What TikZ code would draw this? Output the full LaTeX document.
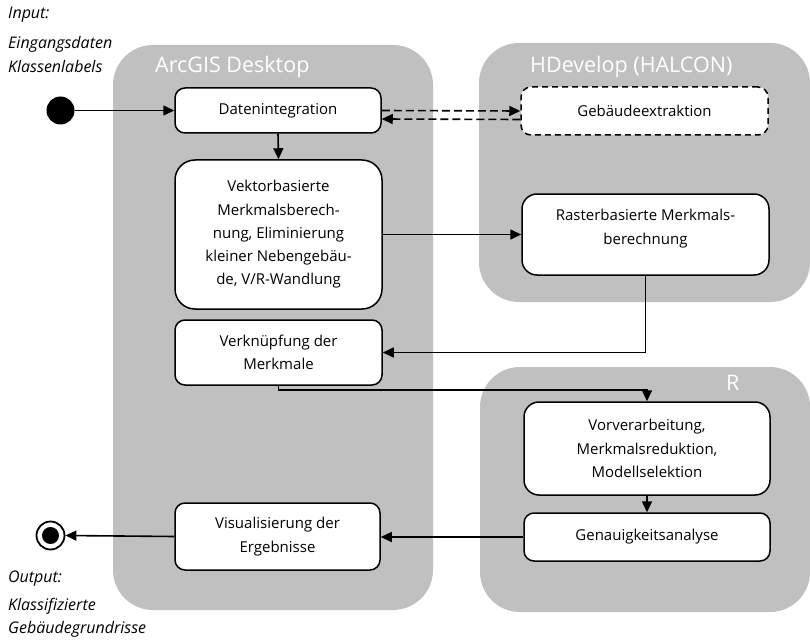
\documentclass[tikz,border=0pt]{standalone}
\usepackage{fontspec}
\setmainfont{Open Sans}
\usetikzlibrary{arrows.meta}
\definecolor{panelgray}{RGB}{192,192,192}
\tikzset{
  panel/.style={fill=panelgray, draw=none, rounded corners=40pt, inner sep=0pt},
  ptitle/.style={text=white, font=\fontsize{21.5}{24}\selectfont, inner sep=0pt, anchor=base west},
  box/.style={draw=black, fill=white, line width=1.5pt, rounded corners=10pt, align=center,
    inner sep=0pt, font=\fontsize{15}{23.3}\selectfont},
  flow/.style={line width=1.6pt, -{Triangle[length=11pt,width=10pt]}},
  itext/.style={font=\itshape\fontsize{16}{18}\selectfont, anchor=base west, inner sep=0pt},
}
\begin{document}
\begin{tikzpicture}[x=1pt,y=-1pt]
\useasboundingbox (0,0) rectangle (810,639);
% panels
\node[panel, minimum width=320pt, minimum height=565pt] (arcp) at (273,327.5) {};
\node[panel, minimum width=331pt, minimum height=259pt] (hdp) at (644.5,172.5) {};
\node[panel, minimum width=330pt, minimum height=245pt] (rp) at (645,489.5) {};
\node[ptitle] (arct) at (155,73) {ArcGIS Desktop};
\node[ptitle] (hdt) at (530,73) {HDevelop (HALCON)};
\node[ptitle] (rt) at (726,390) {R};
% boxes
\node[box, minimum width=206pt, minimum height=45pt] (dat) at (278,110.5) {Datenintegration};
\node[box, dashed, dash pattern=on 6pt off 4pt, minimum width=247pt, minimum height=48pt] (geb) at (644.5,111) {Gebäudeextraktion};
\node[box, rounded corners=20pt, minimum width=207pt, minimum height=149pt] (vek) at (278.5,234.5)
  {Vektorbasierte\\Merkmalsberech-\\nung, Eliminierung\\kleiner Nebengebäu-\\de, V/R-Wandlung};
\node[box, rounded corners=15pt, minimum width=247pt, minimum height=81pt] (ras) at (645.5,234.5) {};
\node[box, draw=none, fill=none] (rast) at ([yshift=6pt]ras.center) {Rasterbasierte Merkmals-\\berechnung};
\node[box, minimum width=207pt, minimum height=65pt] (ver) at (278.5,352.5) {Verknüpfung der\\Merkmale};
\node[box, rounded corners=15pt, minimum width=246pt, minimum height=93pt] (vor) at (647,448.5)
  {Vorverarbeitung,\\Merkmalsreduktion,\\Modellselektion};
\node[box, minimum width=246pt, minimum height=48pt] (gen) at (647,537) {Genauigkeitsanalyse};
\node[box, minimum width=205pt, minimum height=67pt] (vis) at (277.5,536.5) {Visualisierung der\\Ergebnisse};
% start / end
\node[circle, fill=black, minimum size=28pt, inner sep=0pt] (start) at (60.5,110.5) {};
\node[circle, draw=black, line width=1.8pt, fill=white, minimum size=28pt, inner sep=0pt] (endo) at (50.5,535.5) {};
\node[circle, fill=black, minimum size=17pt, inner sep=0pt] (endi) at (endo.center) {};
% labels
\node[itext] (in1) at (8,19) {Input:};
\node[itext] (in2) at (8,49) {Eingangsdaten};
\node[itext] (in3) at (8,73) {Klassenlabels};
\node[itext] (out1) at (8,582) {Output:};
\node[itext] (out2) at (8,610) {Klassifizierte};
\node[itext] (out3) at (8,633) {Gebäudegrundrisse};
% connectors
\draw[flow] (start) -- (dat.west);
\draw[flow] (dat.south) -- (vek.north);
\draw[flow, dashed, dash pattern=on 8pt off 4pt] (dat.east) -- (geb.west);
\draw[flow, dashed, dash pattern=on 8pt off 4pt] ([yshift=-8.5pt]geb.west) -- ([yshift=-8.5pt]dat.east);
\draw[flow] (vek.east |- ras.west) -- (ras.west);
\draw[flow] (ras.south) |- (ver.east);
\draw[flow] (ver.south) -- ++(0,4) -| (vor.north);
\draw[flow] (vor.south) -- (gen.north);
\draw[flow] (gen.west) -- (vis.east |- gen.west);
\draw[flow] (vis.west) -- (endo.east);
\end{tikzpicture}
\end{document}
